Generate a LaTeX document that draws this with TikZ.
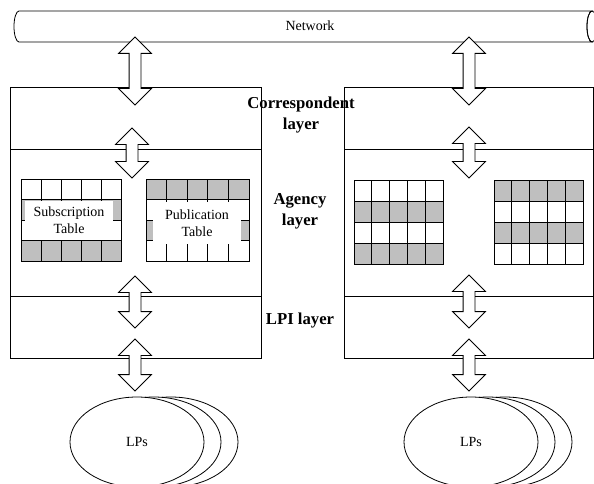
\documentclass[tikz,border=0pt]{standalone}
\usepackage{fontspec}
\setmainfont{Liberation Serif}
\usetikzlibrary{shapes.geometric,shapes.arrows}
\colorlet{cellgray}{black!25}

\begin{document}
\begin{tikzpicture}[x=1pt,y=-1pt,line width=0.8pt]
\tikzstyle{every node}=[inner sep=0pt]
\tikzstyle{layer}=[draw,rectangle]
\tikzstyle{updown}=[draw,fill=white,double arrow,rotate=90,double arrow head extend=10.5pt,inner ysep=5.5pt,inner xsep=0pt]
\tikzstyle{lp}=[draw,fill=white,ellipse,minimum width=134pt,minimum height=90pt,font=\fontsize{14}{17}\selectfont]
\tikzstyle{laylabel}=[align=center,font=\fontsize{16.7}{21}\selectfont\bfseries]
\tikzstyle{tablabel}=[fill=white,align=center,minimum width=88pt,font=\fontsize{14}{17}\selectfont]
\useasboundingbox (0,0) rectangle (594,484);
\fill[white] (0,0) rectangle (594,484);
\clip (0,0) rectangle (594,484);
% network
\draw[fill=white] (19,11) -- (592,11) arc[start angle=270,end angle=90,x radius=5,y radius=15.5] -- (19,42) arc[start angle=90,end angle=270,x radius=5,y radius=15.5] -- cycle;
\draw (592,26.5) ellipse [x radius=5,y radius=15.5];
\node[font=\fontsize{14}{17}\selectfont] (net) at (310,26) {Network};
% layers
\node[layer,minimum width=251pt,minimum height=62pt] (corrL) at (135.5,118) {};
\node[layer,minimum width=251pt,minimum height=147pt] (agL) at (135.5,222.5) {};
\node[layer,minimum width=251pt,minimum height=62pt] (lpiL) at (135.5,327) {};
\node[layer,minimum width=249pt,minimum height=62pt] (corrR) at (468.5,118) {};
\node[layer,minimum width=249pt,minimum height=147pt] (agR) at (468.5,222.5) {};
\node[layer,minimum width=249pt,minimum height=62pt] (lpiR) at (468.5,327) {};
% tables
\foreach \x/\y/\w/\h/\g in {21/179/20/20.5/{1,3},146/179/20.6/20.5/{0,2},354/180/17.8/21/{1,3},494/180/17.8/21/{0,2}} {
  \foreach \r in \g
    \fill[cellgray] (\x,\y+\r*\h) rectangle ++(5*\w,\h);
  \foreach \c in {0,...,4}
    \foreach \r in {0,...,3}
      \draw (\x+\c*\w,\y+\r*\h) rectangle ++(\w,\h);
}
\node[tablabel,minimum height=39pt] (subt) at (69,220.5) {Subscription\\Table};
\node[tablabel,minimum height=42pt] (pubt) at (197,223) {Publication\\Table};
% layer names
\node[laylabel] (corrname) at (301,115) {Correspondent\\layer};
\node[laylabel] (agname) at (300,211) {Agency\\layer};
\node[laylabel] (lpiname) at (300,321) {LPI layer};
% arrows
\node[updown,minimum height=68pt] (u1L) at (135,71) {};
\node[updown,minimum height=50pt] (u2L) at (132,153) {};
\node[updown,minimum height=52pt] (u3L) at (135,302) {};
\node[updown,minimum height=52pt] (u4L) at (135,365) {};
\node[updown,minimum height=68pt] (u1R) at (469,71) {};
\node[updown,minimum height=51pt] (u2R) at (469,152.5) {};
\node[updown,minimum height=53pt] (u3R) at (469,301.5) {};
\node[updown,minimum height=52pt] (u4R) at (469,365) {};
% LPs
\node[lp] (lpL3) at (171,442) {};
\node[lp] (lpL2) at (154,442) {};
\node[lp] (lpL) at (137,442) {LPs};
\node[lp] (lpR3) at (505,442) {};
\node[lp] (lpR2) at (488,442) {};
\node[lp] (lpR) at (471,442) {LPs};
\end{tikzpicture}
\end{document}
